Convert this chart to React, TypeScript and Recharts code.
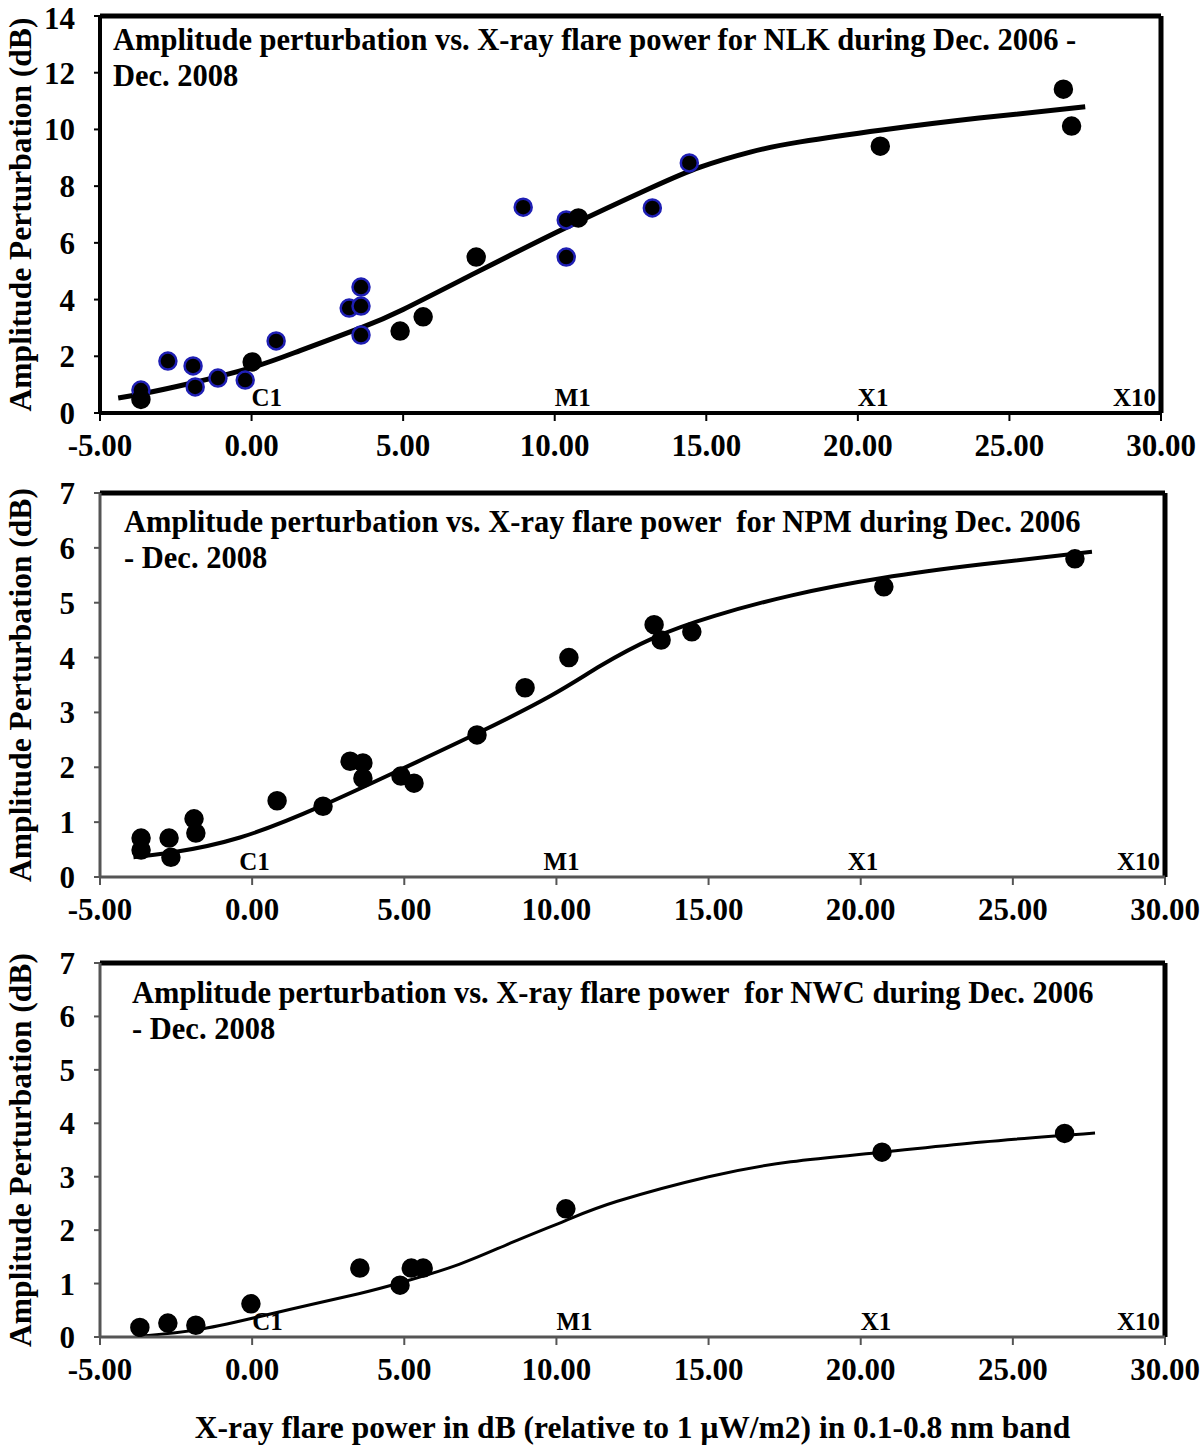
import {
  ComposedChart,
  Line,
  ReferenceLine,
  Scatter,
  XAxis,
  YAxis,
} from "recharts";

// Three stacked panels: amplitude perturbation vs X-ray flare power
// (NLK, NPM, NWC). Dots are the measured events, the thick line is the fit.

type Pt = { x: number; y: number };

// NLK — blue-ringed events and plain black events
const nlkRinged: Pt[] = [
  { x: -3.65, y: 0.81 }, { x: -2.76, y: 1.83 }, { x: -1.93, y: 1.66 },
  { x: -1.86, y: 0.92 }, { x: -1.11, y: 1.23 }, { x: -0.21, y: 1.16 },
  { x: 0.81, y: 2.54 }, { x: 3.22, y: 3.7 }, { x: 3.61, y: 4.44 },
  { x: 3.61, y: 3.77 }, { x: 3.61, y: 2.75 }, { x: 8.96, y: 7.26 },
  { x: 10.38, y: 6.81 }, { x: 10.38, y: 5.5 }, { x: 13.22, y: 7.23 },
  { x: 14.44, y: 8.82 },
];
const nlkPlain: Pt[] = [
  { x: -3.65, y: 0.48 }, { x: 0.02, y: 1.8 }, { x: 4.9, y: 2.89 },
  { x: 5.66, y: 3.39 }, { x: 7.41, y: 5.5 }, { x: 10.78, y: 6.88 },
  { x: 20.74, y: 9.41 }, { x: 26.78, y: 11.42 }, { x: 27.05, y: 10.12 },
];
const nlkFit: Pt[] = [
  { x: -4.4, y: 0.53 }, { x: -3.6, y: 0.68 }, { x: -2, y: 1.05 },
  { x: 0, y: 1.6 }, { x: 1.6, y: 2.2 }, { x: 3.6, y: 3.0 },
  { x: 5, y: 3.65 }, { x: 7.4, y: 4.95 }, { x: 10.4, y: 6.55 },
  { x: 13.2, y: 7.95 }, { x: 14.8, y: 8.67 }, { x: 16.45, y: 9.2 },
  { x: 18.1, y: 9.56 }, { x: 20.8, y: 9.98 }, { x: 24, y: 10.4 },
  { x: 27.5, y: 10.8 },
];

// NPM
const npmPts: Pt[] = [
  { x: -3.65, y: 0.71 }, { x: -3.65, y: 0.49 }, { x: -2.73, y: 0.71 },
  { x: -2.67, y: 0.36 }, { x: -1.91, y: 1.06 }, { x: -1.85, y: 0.8 },
  { x: 0.82, y: 1.39 }, { x: 2.33, y: 1.29 }, { x: 3.22, y: 2.11 },
  { x: 3.64, y: 2.08 }, { x: 3.64, y: 1.8 }, { x: 4.89, y: 1.84 },
  { x: 5.32, y: 1.71 }, { x: 7.39, y: 2.59 }, { x: 8.97, y: 3.45 },
  { x: 10.41, y: 4.0 }, { x: 13.21, y: 4.6 }, { x: 13.44, y: 4.32 },
  { x: 14.45, y: 4.47 }, { x: 20.76, y: 5.29 }, { x: 27.04, y: 5.8 },
];
const npmFit: Pt[] = [
  { x: -3.9, y: 0.36 }, { x: -2.6, y: 0.45 }, { x: -0.4, y: 0.72 },
  { x: 2.3, y: 1.3 }, { x: 5, y: 1.99 }, { x: 7.4, y: 2.62 },
  { x: 9.8, y: 3.3 }, { x: 11.45, y: 3.85 }, { x: 13.2, y: 4.36 },
  { x: 15.2, y: 4.76 }, { x: 17.7, y: 5.13 }, { x: 20.7, y: 5.45 },
  { x: 24, y: 5.7 }, { x: 27.6, y: 5.93 },
];

// NWC
const nwcPts: Pt[] = [
  { x: -3.69, y: 0.18 }, { x: -2.77, y: 0.26 }, { x: -1.85, y: 0.22 },
  { x: -0.04, y: 0.62 }, { x: 3.54, y: 1.29 }, { x: 4.86, y: 0.97 },
  { x: 5.23, y: 1.29 }, { x: 5.62, y: 1.29 }, { x: 10.31, y: 2.4 },
  { x: 20.7, y: 3.46 }, { x: 26.7, y: 3.81 },
];
const nwcFit: Pt[] = [
  { x: -3.6, y: 0.02 }, { x: -1.85, y: 0.13 }, { x: 0, y: 0.35 },
  { x: 1.8, y: 0.59 }, { x: 3.5, y: 0.81 }, { x: 4.9, y: 1.02 },
  { x: 6.8, y: 1.36 }, { x: 8.5, y: 1.76 }, { x: 10.3, y: 2.18 },
  { x: 12, y: 2.54 }, { x: 15, y: 3.0 }, { x: 17.7, y: 3.28 },
  { x: 20.7, y: 3.46 }, { x: 24, y: 3.65 }, { x: 27.7, y: 3.82 },
];

const xTicks = [-5, 0, 5, 10, 15, 20, 25, 30];
const flareClasses = [
  { x: 0, y: 0, label: "C1" },
  { x: 10, y: 0, label: "M1" },
  { x: 20, y: 0, label: "X1" },
  { x: 30, y: 0, label: "X10" },
];

const FONT = "'Liberation Serif', 'Times New Roman', serif";
const RING = "#1f1fb4";

const dot = (fill: string, stroke: string) => (p: any) =>
  <circle cx={p.cx} cy={p.cy} r={8.5} fill={fill} stroke={stroke} strokeWidth={2.5} />;

const classLabel = (shift: number) => (p: any) => {
  const last = p.payload?.label === "X10";
  return (
    <text
      x={p.cx + (last ? -5 : shift)}
      y={p.cy - 7}
      textAnchor={last ? "end" : "start"}
      fontFamily={FONT}
      fontWeight="bold"
      fontSize={25}
      fill="#000"
    >
      {p.payload?.label}
    </text>
  );
};

type PanelProps = {
  top: number;
  height: number;
  margin: { top: number; right: number; bottom: number; left: number };
  xHeight: number;
  yMax: number;
  yTicks: number[];
  axisColor: string;
  axisWidth: number;
  lineWidth: number;
  fit: Pt[];
  ringed?: Pt[];
  plain: Pt[];
  classShift: number;
  title: string[];
  titleLeft: number;
  titleTop: number;
};

function Panel(props: PanelProps) {
  const tickStyle = { fill: "#000", fontFamily: FONT, fontWeight: "bold", fontSize: 31 };
  return (
    <div style={{ position: "absolute", left: 0, top: props.top, width: 1200, height: props.height }}>
      <ComposedChart width={1200} height={props.height} margin={props.margin}>
        <XAxis
          type="number"
          dataKey="x"
          domain={[-5, 30]}
          ticks={xTicks}
          allowDataOverflow
          tickFormatter={(v: number) => v.toFixed(2)}
          tick={tickStyle}
          tickSize={8}
          tickMargin={13}
          height={props.xHeight}
          axisLine={{ stroke: props.axisColor, strokeWidth: props.axisWidth }}
          tickLine={{ stroke: props.axisColor, strokeWidth: 2 }}
        />
        <YAxis
          type="number"
          dataKey="y"
          domain={[0, props.yMax]}
          ticks={props.yTicks}
          allowDataOverflow
          tick={tickStyle}
          tickSize={6}
          tickMargin={19}
          width={100}
          axisLine={{ stroke: props.axisColor, strokeWidth: props.axisWidth }}
          tickLine={{ stroke: props.axisColor, strokeWidth: 2 }}
          label={{
            value: "Amplitude Perturbation (dB)",
            angle: -90,
            position: "insideLeft",
            offset: 20,
            style: { textAnchor: "middle", fontFamily: FONT, fontWeight: "bold", fontSize: 31.5, fill: "#000" },
          }}
        />
        <ReferenceLine y={props.yMax} stroke="#000" strokeWidth={5} />
        <ReferenceLine x={30} stroke="#000" strokeWidth={5} />
        <Line
          data={props.fit}
          dataKey="y"
          type="natural"
          stroke="#000"
          strokeWidth={props.lineWidth}
          dot={false}
          activeDot={false}
          isAnimationActive={false}
        />
        {props.ringed && (
          <Scatter data={props.ringed} shape={dot("#000", RING)} isAnimationActive={false} />
        )}
        <Scatter data={props.plain} shape={dot("#000", "#000")} isAnimationActive={false} />
        <Scatter data={flareClasses} shape={classLabel(props.classShift)} isAnimationActive={false} />
      </ComposedChart>
      <div
        style={{
          position: "absolute",
          left: props.titleLeft,
          top: props.titleTop,
          fontFamily: FONT,
          fontWeight: "bold",
          fontSize: 30.5,
          lineHeight: "36px",
          whiteSpace: "pre",
          color: "#000",
        }}
      >
        {props.title.join("\n")}
      </div>
    </div>
  );
}

export default function App() {
  return (
    <div style={{ position: "relative", width: 1200, height: 1450, background: "#fff" }}>
      <style>{"body{margin:0}"}</style>
      <Panel
        top={0}
        height={470}
        margin={{ top: 16, right: 39, bottom: 0, left: 0 }}
        xHeight={57}
        yMax={14}
        yTicks={[0, 2, 4, 6, 8, 10, 12, 14]}
        axisColor="#000"
        axisWidth={4}
        lineWidth={5}
        fit={nlkFit}
        ringed={nlkRinged}
        plain={nlkPlain}
        classShift={0}
        title={[
          "Amplitude perturbation vs. X-ray flare power for NLK during Dec. 2006 -",
          "Dec. 2008",
        ]}
        titleLeft={113}
        titleTop={22}
      />
      <Panel
        top={470}
        height={470}
        margin={{ top: 23, right: 35, bottom: 0, left: 0 }}
        xHeight={63}
        yMax={7}
        yTicks={[0, 1, 2, 3, 4, 5, 6, 7]}
        axisColor="#555"
        axisWidth={3}
        lineWidth={4}
        fit={npmFit}
        plain={npmPts}
        classShift={-13}
        title={[
          "Amplitude perturbation vs. X-ray flare power  for NPM during Dec. 2006",
          "- Dec. 2008",
        ]}
        titleLeft={124}
        titleTop={34}
      />
      <Panel
        top={940}
        height={450}
        margin={{ top: 23, right: 35, bottom: 0, left: 0 }}
        xHeight={53}
        yMax={7}
        yTicks={[0, 1, 2, 3, 4, 5, 6, 7]}
        axisColor="#555"
        axisWidth={3}
        lineWidth={3}
        fit={nwcFit}
        plain={nwcPts}
        classShift={0}
        title={[
          "Amplitude perturbation vs. X-ray flare power  for NWC during Dec. 2006",
          "- Dec. 2008",
        ]}
        titleLeft={132}
        titleTop={35}
      />
      <div
        style={{
          position: "absolute",
          left: 0,
          width: 1265,
          top: 1410,
          textAlign: "center",
          fontFamily: FONT,
          fontWeight: "bold",
          fontSize: 31.5,
          color: "#000",
        }}
      >
        X-ray flare power in dB (relative to 1 μW/m2) in 0.1-0.8 nm band
      </div>
    </div>
  );
}
